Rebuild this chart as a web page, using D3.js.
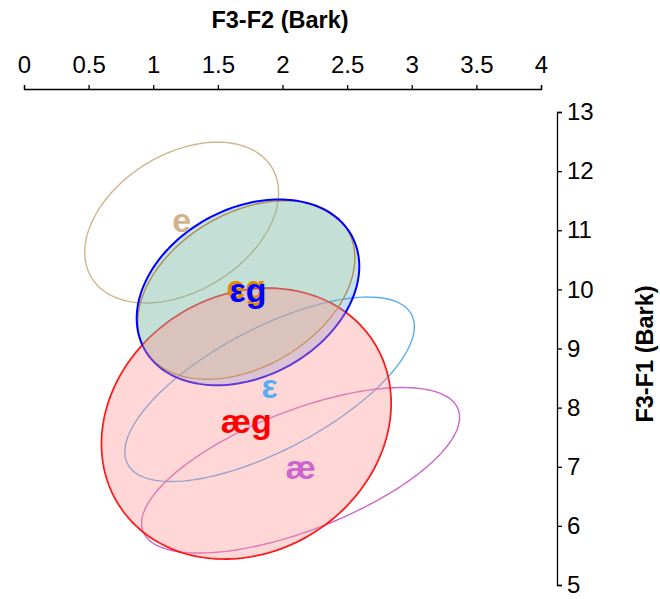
<!DOCTYPE html>
<html>
<head>
<meta charset="utf-8">
<script src="https://d3js.org/d3.v7.min.js"></script>
<style>
  body { margin: 0; background: #fff; }
  text { font-family: "Liberation Sans", Arial, sans-serif; }
  .axis text { font-size: 24px; fill: #000; }
  .axis path, .axis line { stroke: #000; stroke-width: 1.3px; }
</style>
</head>
<body>
<svg id="chart" width="660" height="599"></svg>
<script>
// vowel categories and ellipse stats (F3-F2 on x, F3-F1 on y, Bark)
var vowels = ["e", "ε", "æ", "æg", "eg", "εg"];
var meanX  = [1.22, 1.90, 2.14, 1.72, 1.72, 1.733];
var meanY  = [11.13, 8.31, 6.94, 7.73, 9.99, 9.95];
var sdX    = [0.75, 1.12, 1.23, 1.12, 0.84, 0.861];
var sdY    = [1.36, 1.56, 1.40, 2.29, 1.51, 1.571];
var corr   = [0.37, 0.68, 0.64, 0.15, 0.36, 0.28];

var xTicks = [0, 0.5, 1, 1.5, 2, 2.5, 3, 3.5, 4];
var yTicks = [5, 6, 7, 8, 9, 10, 11, 12, 13];

var strokeColor = ["#d2b48c", "#5aaef0", "#cc66cc", "#ff0000", "#e08c00", "#0000ff"];
var fillColor   = ["none", "none", "none", "rgba(255,150,150,0.38)", "rgba(255,255,0,0.2)", "rgba(60,150,240,0.3)"];
var strokeW     = [1.4, 1.4, 1.4, 1.8, 1.4, 2];

// which part of which ellipse goes on which layer, bottom to top
var layers = [[0, "stroke"], [1, "stroke"], [2, "stroke"], [3, "stroke"],
              [4, "both"], [5, "both"], [3, "fill"]];

var svg = d3.select("#chart");

var x = d3.scaleLinear().domain([0, 4]).range([24, 541]);
var y = d3.scaleLinear().domain([5, 13]).range([585, 112]);

svg.append("g")
  .attr("class", "axis")
  .attr("transform", "translate(0,89)")
  .call(d3.axisTop(x).tickValues(xTicks).tickSize(4).tickPadding(12)
    .tickFormat(function(d) { return String(d); }));

svg.append("g")
  .attr("class", "axis")
  .attr("transform", "translate(557,0)")
  .call(d3.axisRight(y).tickValues(yTicks).tickSize(5).tickPadding(5));

svg.append("text")
  .attr("x", 280)
  .attr("y", 28)
  .attr("text-anchor", "middle")
  .style("font-size", "23.5px")
  .style("font-weight", "bold")
  .text("F3-F2 (Bark)");

svg.append("text")
  .attr("transform", "translate(653,354) rotate(-90)")
  .attr("text-anchor", "middle")
  .style("font-size", "23.5px")
  .style("font-weight", "bold")
  .text("F3-F1 (Bark)");

// ellipse outline from mean, sd and correlation
function ellipsePoints(i) {
  var pts = [];
  var r = corr[i];
  var q = Math.sqrt(1 - r * r);
  for (var k = 0; k < 180; k++) {
    var t = k / 180 * 2 * Math.PI;
    pts.push([meanX[i] + sdX[i] * Math.cos(t),
              meanY[i] + sdY[i] * (r * Math.cos(t) + q * Math.sin(t))]);
  }
  return pts;
}

var line = d3.line()
  .x(function(d) { return x(d[0]); })
  .y(function(d) { return y(d[1]); })
  .curve(d3.curveLinearClosed);

svg.append("g").selectAll("path")
  .data(layers)
  .enter()
  .append("path")
  .attr("d", function(d) { return line(ellipsePoints(d[0])); })
  .attr("fill", function(d) { return d[1] == "stroke" ? "none" : fillColor[d[0]]; })
  .attr("stroke", function(d) { return d[1] == "fill" ? "none" : strokeColor[d[0]]; })
  .attr("stroke-width", function(d) { return strokeW[d[0]]; });

svg.append("g").selectAll("text")
  .data(vowels)
  .enter()
  .append("text")
  .attr("x", function(d, i) { return x(meanX[i]); })
  .attr("y", function(d, i) { return y(meanY[i]); })
  .attr("dy", "0.27em")
  .attr("text-anchor", "middle")
  .style("font-size", "34px")
  .style("font-weight", "bold")
  .attr("fill", function(d, i) { return strokeColor[i]; })
  .text(function(d) { return d; });
</script>
</body>
</html>
